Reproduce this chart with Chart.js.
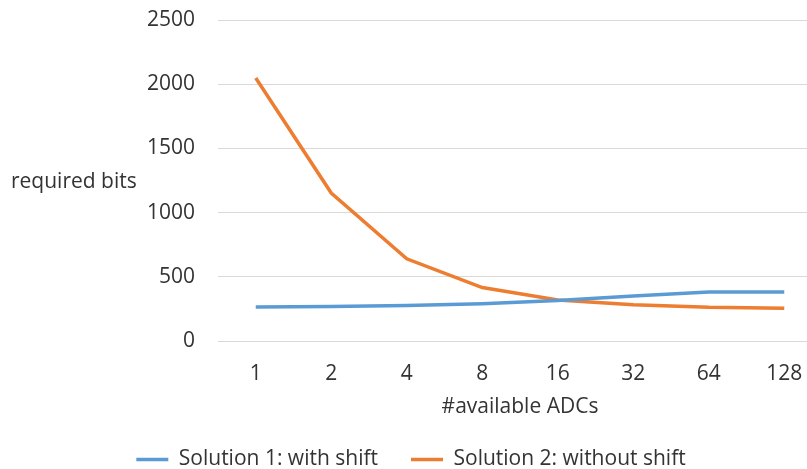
<!DOCTYPE html>
<html>
<head>
<meta charset="utf-8">
<script src="https://cdn.jsdelivr.net/npm/chart.js@4.4.1/dist/chart.umd.min.js"></script>
<style>
  html, body { margin: 0; padding: 0; background: #fff; overflow: hidden; }
  #wrap { width: 830px; height: 469px; position: relative; }
</style>
</head>
<body>
<div id="wrap"><canvas id="chart"></canvas></div>
<script>
// =================== DATA =================== //
const categories = ['1', '2', '4', '8', '16', '32', '64', '128'];
const withShift = [264, 268, 276, 290, 315, 350, 382, 382];
const withoutShift = [2048, 1152, 640, 416, 320, 282, 262, 256];
const seriesNames = ['Solution 1: with shift', 'Solution 2: without shift'];
const yTitle = 'required bits';
const xTitle = '#available ADCs';

const FONT = "'Open Sans', sans-serif";
const FONT_SIZE = 21;
const TEXT = '#333333';

// Excel style axis titles: y title is horizontal, x title sits under the labels
const axisTitlePlugin = {
    id: 'axisTitlePlugin',
    afterDraw(chart) {
        const ctx = chart.ctx;
        const area = chart.chartArea;
        ctx.save();
        ctx.font = FONT_SIZE + 'px ' + FONT;
        ctx.fillStyle = TEXT;
        ctx.textBaseline = 'middle';
        ctx.textAlign = 'left';
        ctx.fillText(yTitle, 11, (area.top + area.bottom) / 2 + 2);
        ctx.textAlign = 'center';
        ctx.fillText(xTitle, (area.left + area.right) / 2, area.bottom + 66);
        ctx.restore();
    }
};

new Chart(document.getElementById('chart'), {
    type: 'line',
    data: {
        labels: categories,
        datasets: [
            {
                label: seriesNames[0],
                data: withShift,
                borderColor: '#5B9BD5',
                backgroundColor: '#5B9BD5',
                borderWidth: 3.5,
                pointRadius: 0,
                pointStyle: 'line',
                tension: 0
            },
            {
                label: seriesNames[1],
                data: withoutShift,
                borderColor: '#ED7D31',
                backgroundColor: '#ED7D31',
                borderWidth: 3.5,
                pointRadius: 0,
                pointStyle: 'line',
                tension: 0
            }
        ]
    },
    options: {
        responsive: true,
        maintainAspectRatio: false,
        animation: false,
        // negative bottom padding pushes the legend down to where Excel puts it
        layout: { padding: { left: 0, right: 8, top: 20, bottom: -11 } },
        plugins: {
            tooltip: { enabled: false },
            legend: {
                position: 'bottom',
                labels: {
                    usePointStyle: true,
                    pointStyleWidth: 32,
                    boxHeight: 20,
                    padding: 33,
                    color: TEXT,
                    font: { family: FONT, size: FONT_SIZE }
                }
            }
        },
        scales: {
            x: {
                offset: true,
                grid: { display: false, drawTicks: false },
                border: { display: false },
                ticks: { color: TEXT, font: { family: FONT, size: FONT_SIZE }, padding: 20, maxRotation: 0 },
                afterFit(scale) { scale.height = 75; }
            },
            y: {
                min: 0,
                max: 2500,
                ticks: {
                    stepSize: 500,
                    color: TEXT,
                    font: { family: FONT, size: FONT_SIZE },
                    padding: 23,
                    callback: v => String(v)
                },
                grid: { color: '#d9d9d9', lineWidth: 1, drawTicks: false },
                border: { display: false },
                afterFit(scale) {
                    scale.width = 218;
                    scale.paddingTop = 0;
                    scale.paddingBottom = 0;
                }
            }
        }
    },
    plugins: [axisTitlePlugin]
});
</script>
</body>
</html>
